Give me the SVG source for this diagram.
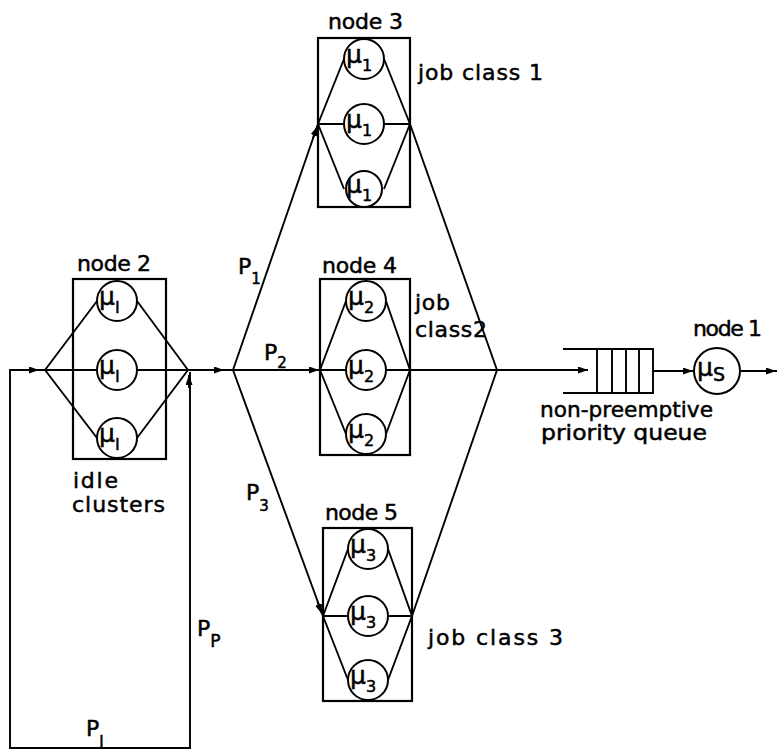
<svg xmlns="http://www.w3.org/2000/svg" width="777" height="751" viewBox="0 0 777 751">
<defs>
<style>
.ln{fill:none;stroke:#000;stroke-width:1.9;stroke-linejoin:miter}
.box{fill:none;stroke:#000;stroke-width:2.2}
.srv{fill:#fff;stroke:#000;stroke-width:2}
.lbl{font-family:"DejaVu Sans",sans-serif;font-size:22px;fill:#000;stroke:#000;stroke-width:0.5}
.mu{font-family:"DejaVu Sans",sans-serif;font-size:25px;fill:#000;stroke:#000;stroke-width:0.5}
.sub{font-size:16px}
.ps{font-size:15px}
.arr{fill:none;stroke:#000;stroke-width:1.9;marker-end:url(#ah)}
</style>
<marker id="ah" markerUnits="userSpaceOnUse" markerWidth="11" markerHeight="7" refX="10" refY="3.5" orient="auto">
<path d="M0,0 L10,3.5 L0,7 z" fill="#000"/>
</marker>
</defs>
<rect width="777" height="751" fill="#fff"/>

<g id="connectors">
<path class="ln" d="M190,372 V748 H10 V370 H45"/>
<path class="ln" d="M188,370 H233"/>
<path class="ln" d="M233,370 L318,124"/>
<path class="ln" d="M233,370 H320"/>
<path class="ln" d="M233,370 L323,616"/>
<path class="ln" d="M410,124 L497,370"/>
<path class="ln" d="M410,370 H497"/>
<path class="ln" d="M412,616 L497,370"/>
<path class="ln" d="M497,370 H588"/>
<path class="ln" d="M653,371 H693"/>
<path class="ln" d="M741,371 H777"/>
<path class="arr" d="M26,370 H39"/>
<path class="arr" d="M211,370 H224"/>
<path class="arr" d="M313,138 L317.5,126"/>
<path class="arr" d="M305,370 H319"/>
<path class="arr" d="M317.5,602 L322,614"/>
<path class="arr" d="M574,370 H588"/>
<path class="arr" d="M680,371 H693"/>
<path class="arr" d="M762,371 H776"/>
<path class="arr" d="M189,388 V375"/>
<text class="lbl" x="238" y="274">P<tspan class="ps" dy="10">1</tspan></text>
<text class="lbl" x="264" y="360">P<tspan class="ps" dy="8">2</tspan></text>
<text class="lbl" x="246" y="500">P<tspan class="ps" dy="11">3</tspan></text>
<text class="lbl" x="197" y="636">P<tspan class="ps" dy="11" style="font-size:17px">P</tspan></text>
<text class="lbl" x="86" y="736">P<tspan class="ps" dy="11">I</tspan></text>
</g>

<g id="node2">
<rect class="box" x="73" y="279" width="93" height="180"/>
<path class="ln" d="M45,370 L97,301 M137,301 L188,370 M45,370 L97,438 M137,438 L188,370 M45,370 H188"/>
<circle class="srv" cx="117" cy="301" r="20"/>
<circle class="srv" cx="117" cy="370" r="20"/>
<circle class="srv" cx="117" cy="438" r="20"/>
<text class="mu" x="99" y="305">μ<tspan class="sub" dy="8">I</tspan></text>
<text class="mu" x="99" y="374">μ<tspan class="sub" dy="8">I</tspan></text>
<text class="mu" x="99" y="442">μ<tspan class="sub" dy="8">I</tspan></text>
<text class="lbl" x="77" y="271" textLength="74" lengthAdjust="spacing">node 2</text>
<text class="lbl" x="73" y="488" textLength="45" lengthAdjust="spacing">idle</text>
<text class="lbl" x="72" y="512" textLength="93" lengthAdjust="spacing">clusters</text>
</g>

<g id="node3">
<rect class="box" x="318" y="38" width="92" height="169"/>
<path class="ln" d="M318,124 L344,59 M384,59 L410,124 M318,124 L344,189 M384,189 L410,124 M318,124 H410"/>
<circle class="srv" cx="364" cy="59" r="20"/>
<circle class="srv" cx="364" cy="124" r="20"/>
<circle class="srv" cx="364" cy="189" r="18"/>
<text class="mu" x="346" y="63">μ<tspan class="sub" dy="8">1</tspan></text>
<text class="mu" x="346" y="128">μ<tspan class="sub" dy="8">1</tspan></text>
<text class="mu" x="346" y="193">μ<tspan class="sub" dy="8">1</tspan></text>
<text class="lbl" x="328" y="29" textLength="75" lengthAdjust="spacing">node 3</text>
<text class="lbl" x="418" y="80" textLength="125" lengthAdjust="spacing">job class 1</text>
</g>

<g id="node4">
<rect class="box" x="320" y="279" width="90" height="176"/>
<path class="ln" d="M320,370 L346,301 M386,301 L410,370 M320,370 L346,434 M386,434 L410,370 M320,370 H410"/>
<circle class="srv" cx="366" cy="301" r="20"/>
<circle class="srv" cx="366" cy="370" r="20"/>
<circle class="srv" cx="366" cy="434" r="20"/>
<text class="mu" x="348" y="305">μ<tspan class="sub" dy="8">2</tspan></text>
<text class="mu" x="348" y="374">μ<tspan class="sub" dy="8">2</tspan></text>
<text class="mu" x="348" y="438">μ<tspan class="sub" dy="8">2</tspan></text>
<text class="lbl" x="322" y="273" textLength="75" lengthAdjust="spacing">node 4</text>
<text class="lbl" x="415" y="310" textLength="35" lengthAdjust="spacing">job</text>
<text class="lbl" x="415" y="337" textLength="72" lengthAdjust="spacing">class2</text>
</g>

<g id="node5">
<rect class="box" x="323" y="528" width="89" height="173"/>
<path class="ln" d="M323,616 L348,549 M388,549 L412,616 M323,616 L348,680 M388,680 L412,616 M323,616 H412"/>
<circle class="srv" cx="368" cy="549" r="20"/>
<circle class="srv" cx="368" cy="616" r="20"/>
<circle class="srv" cx="368" cy="680" r="20"/>
<text class="mu" x="350" y="553">μ<tspan class="sub" dy="8">3</tspan></text>
<text class="mu" x="350" y="620">μ<tspan class="sub" dy="8">3</tspan></text>
<text class="mu" x="350" y="684">μ<tspan class="sub" dy="8">3</tspan></text>
<text class="lbl" x="325" y="520" textLength="73" lengthAdjust="spacing">node 5</text>
<text class="lbl" x="428" y="645" textLength="135" lengthAdjust="spacing">job class 3</text>
</g>

<g id="queue">
<path class="ln" d="M563,349 H653 V393 H563 M597,349 V393 M612,349 V393 M626,349 V393 M639,349 V393"/>
<text class="lbl" x="540" y="417" textLength="173" lengthAdjust="spacingAndGlyphs">non-preemptive</text>
<text class="lbl" x="541" y="440" textLength="166" lengthAdjust="spacingAndGlyphs">priority queue</text>
</g>

<g id="node1">
<circle class="srv" cx="717" cy="371" r="23"/>
<text class="mu" x="697" y="376">μ<tspan class="sub" dy="5" style="font-size:19px">S</tspan></text>
<text class="lbl" x="693" y="336" textLength="69" lengthAdjust="spacing">node 1</text>
</g>
</svg>
